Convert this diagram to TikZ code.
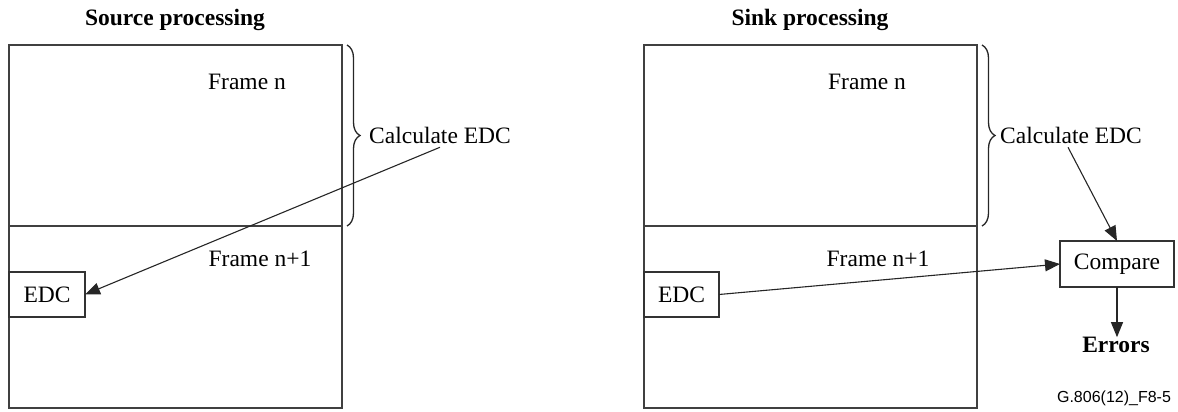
\documentclass[tikz,border=0pt]{standalone}
\usepackage{fontspec}
\setmainfont{Liberation Serif}
\newfontfamily\labelsans{Liberation Sans}
\usetikzlibrary{arrows.meta,decorations.pathreplacing}
\begin{document}
\begin{tikzpicture}[x=1pt,y=-1pt,
  every node/.style={inner sep=0pt,outer sep=0pt,font=\fontsize{23.5}{28}\selectfont},
  frame/.style={draw=black!75,line width=1.3pt,minimum width=333pt,anchor=north west},
  box/.style={draw=black!80,line width=1.1pt,minimum height=45pt,anchor=north west},
  title/.style={font=\fontsize{23.5}{28}\selectfont\bfseries},
  arr/.style={draw=black!85,line width=1.1pt,-{Triangle[length=15pt,width=12pt]}},
  brc/.style={draw=black!85,line width=1.3pt,decorate,decoration={brace,amplitude=13pt,aspect=0.5}}]
\useasboundingbox (0,0) rectangle (1178,412);
% titles
\node[title] (tL) at (175,20) {Source processing};
\node[title] (tR) at (810,20) {Sink processing};
% frames
\node[frame,minimum height=181pt] (fnL) at (9,45) {};
\node[frame,minimum height=182pt] (fn1L) at (9,226) {};
\node[frame,minimum height=181pt] (fnR) at (644,45) {};
\node[frame,minimum height=182pt] (fn1R) at (644,226) {};
% frame labels
\node (lnL) at (247,82) {Frame n};
\node (ln1L) at (260,259) {Frame n+1};
\node (lnR) at (867,82) {Frame n};
\node (ln1R) at (878,259) {Frame n+1};
% braces
\draw[brc] ([xshift=5pt]fnL.north east) -- ([xshift=5pt]fnL.south east);
\draw[brc] ([xshift=5pt]fnR.north east) -- ([xshift=5pt]fnR.south east);
% calculate labels
\node (cL) at (440,135) {Calculate EDC};
\node (cR) at (1071,135) {Calculate EDC};
% EDC boxes
\node[box,minimum width=76pt] (eL) at (9,272) {};
\node at (eL.center) {EDC};
\node[box,minimum width=75pt] (eR) at (644,272) {};
\node at (eR.center) {EDC};
% compare
\node[box,minimum width=114pt,minimum height=46pt] (cmp) at (1060,241) {};
\node at (cmp.center) {Compare};
\node[title] (err) at (1116,345) {Errors};
\node[font=\fontsize{16}{19}\selectfont\labelsans] (id) at (1114,398) {G.806(12)\_F8-5};
% arrows
\coordinate (sL) at ([yshift=-4pt]cL.south);
\coordinate (sR) at ([xshift=-3pt,yshift=-4pt]cR.south);
\draw[arr] (sL) -- (eL.east);
\draw[arr] (sR) -- (cmp.north);
\draw[arr] (eR.east) -- (cmp.west);
\draw[arr] (cmp.south) -- (cmp.south |- err.north);
\end{tikzpicture}
\end{document}
